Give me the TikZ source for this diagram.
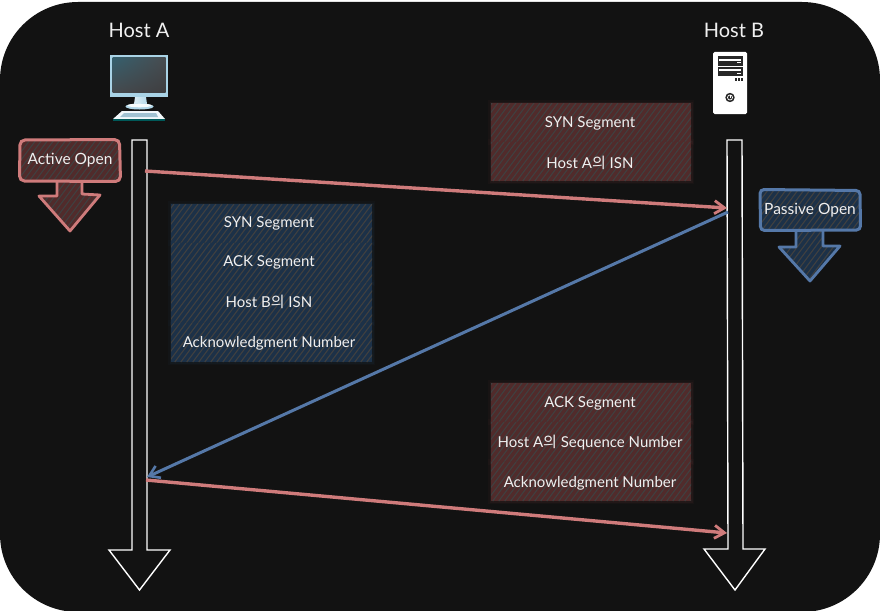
\documentclass[tikz,border=0pt]{standalone}
\usepackage{fontspec}
\setmainfont{Lato}
\newfontfamily\krfont{Noto Sans CJK KR}
\usetikzlibrary{arrows.meta,positioning,shadings}
\definecolor{bgc}{HTML}{121212}
\definecolor{redl}{HTML}{CF7B7B}
\definecolor{redf}{HTML}{512B2B}
\definecolor{bluel}{HTML}{5578A8}
\definecolor{bluef}{HTML}{1C3148}
\definecolor{hatch}{HTML}{404040}
\definecolor{txt}{HTML}{F0F0F0}
\definecolor{scr}{HTML}{A9D3E6}
\definecolor{scrul}{HTML}{35606E}
\definecolor{scrur}{HTML}{484C50}
\definecolor{scrll}{HTML}{464A4E}
\definecolor{scrlr}{HTML}{3E3E40}
\tikzset{
  x=1pt,y=-1pt,
  fieldtext/.style={text=txt,font=\fontsize{15}{18}\selectfont,anchor=center,inner sep=0pt,yshift=-1pt},
  hosttext/.style={text=txt,font=\fontsize{20}{24}\selectfont,anchor=center,inner sep=0pt},
  statetext/.style={text=txt,font=\fontsize{15.5}{18}\selectfont,anchor=center,inner sep=0pt,yshift=-.5pt},
  lifeline/.style={draw=white,line width=1.4pt,line join=miter,fill=bgc},
  redmsg/.style={draw=redl,line width=3.4pt,-{Straight Barb[length=10pt,width=13pt,line width=2.8pt]}},
  bluemsg/.style={draw=bluel,line width=3pt,-{Straight Barb[length=10pt,width=13pt,line width=2.6pt]}},
}
% hachured region: #1 fill colour, #2 path, #3 y-range start, #4 y-range end
\newcommand{\hachreg}[4]{%
  \fill[#1] #2;
  \begin{scope}
    \clip #2;
    \foreach \hh in {-300,-294,...,1300}{
      \draw[hatch,line width=1.1pt] (\hh,#3) -- ++(-0.75*#4+0.75*#3,#4-#3);
    }
  \end{scope}%
}
% field row with soft edge: #1 colour, x0, y0, x1, y1
\newcommand{\fieldrow}[5]{%
  \draw[#1,line width=6pt,opacity=.10] (#2,#3) rectangle (#4,#5);
  \draw[#1,line width=3pt,opacity=.18] (#2,#3) rectangle (#4,#5);
  \hachreg{#1}{(#2,#3) rectangle (#4,#5)}{#3}{#5}%
}
\begin{document}
\begin{tikzpicture}
\useasboundingbox (0,0) rectangle (880,610);
\fill[white] (0,0) rectangle (880,610);
\fill[bgc,rounded corners=78pt] (0,2) rectangle (880,612);

% field boxes
\fieldrow{redf}{491}{103}{691}{142}
\fieldrow{redf}{491}{142}{691}{181}
\fieldrow{bluef}{171}{204}{372}{243}
\fieldrow{bluef}{171}{243}{372}{283}
\fieldrow{bluef}{171}{283}{372}{323}
\fieldrow{bluef}{171}{323}{372}{362}
\fieldrow{redf}{491}{383}{691}{422}
\fieldrow{redf}{491}{422}{691}{462}
\fieldrow{redf}{491}{462}{691}{501}

\node[fieldtext] (f1) at (590,122) {SYN Segment};
\node[fieldtext] (f2) at (590,162) {Host A{\krfont 의} ISN};
\node[fieldtext] (f3) at (269,222) {SYN Segment};
\node[fieldtext] (f4) at (269,261) {ACK Segment};
\node[fieldtext] (f5) at (269,301) {Host B{\krfont 의} ISN};
\node[fieldtext] (f6) at (269,342) {Acknowledgment Number};
\node[fieldtext] (f7) at (590,402) {ACK Segment};
\node[fieldtext] (f8) at (590,442) {Host A{\krfont 의} Sequence Number};
\node[fieldtext] (f9) at (590,482) {Acknowledgment Number};

% host labels
\node[hosttext] (hosta) at (139,30) {Host A};
\node[hosttext] (hostb) at (734,30) {Host B};

% monitor icon
\shade[left color=white!75!scr,right color=scr] (135,97) -- (146,97) -- (147,104) -- (152,108) -- (129,108) -- (134,104) -- cycle;
\fill[scr!90!white] (139.5,106.5) ellipse (14 and 3);
\fill[white!90!scr] (139.5,105.5) ellipse (12 and 1.8);
\fill[scr] (110,55) rectangle (168,97);
\shade[upper left=scrul,upper right=scrur,lower left=scrll,lower right=scrlr] (112.5,57.5) rectangle (165.5,92);
\fill[white!85!scr] (122,111) -- (158,111) -- (165,119) -- (113,119) -- cycle;
\fill[teal!70!black] (113,119) rectangle (165,121);
\fill[scr!80!gray] (124,113) -- (156,113) -- (158,117) -- (120,117) -- cycle;

% server icon
\fill[white,rounded corners=1.5pt] (713,52) rectangle (747,114);
\fill[bgc!80!gray] (717.5,56) rectangle (743,65.5);
\fill[white] (719,59) rectangle (741,61);
\fill[bgc!80!gray] (717.5,66.5) rectangle (743,76);
\fill[white] (719,69) rectangle (741,71);
\fill[white] (737,62.5) rectangle (741,63.5);
\fill[white] (737,73) rectangle (741,74);
\foreach \vx in {735,738,741}{\fill[bgc!80!gray] (\vx,77.5) rectangle (\vx+2,80.5);}
\fill[bgc!80!gray] (730,97.5) circle (4.7);
\draw[white,line width=.7pt] (730,97.5) circle (2.5);
\draw[white,line width=.7pt] (730,94.8) -- (730,97.5);

% state: active open
\hachreg{redf}{(57,181) -- (82,181) -- (82,195) -- (100,195) -- (70,231) -- (39,196) -- (57,196) -- cycle}{181}{231}
\draw[redl,line width=2.8pt,line join=round] (57,181) -- (57,196) -- (39,196) -- (70,231) -- (100,195) -- (82,194) -- (82,181);
\hachreg{redf}{(20,140) rectangle (120,181)}{140}{181}
\draw[redl,line width=3pt,rounded corners=5pt] (20,140) -- (119.5,139.5) -- (120.5,181.5) -- (19.5,181) -- cycle;
\node[statetext] (active) at (70,160) {Active Open};

% state: passive open
\hachreg{bluef}{(796,230) -- (823,230) -- (823,246) -- (840,246) -- (810,281) -- (779,246) -- (796,246) -- cycle}{230}{281}
\draw[bluel,line width=2.8pt,line join=round] (796,230) -- (796,247) -- (779,247) -- (810,281) -- (840,246) -- (823,246) -- (823,230);
\hachreg{bluef}{(760,190) rectangle (860,230)}{190}{230}
\draw[bluel,line width=3pt,rounded corners=4pt] (760,189.5) -- (860,190.5) -- (860.5,230) -- (760.5,230.5) -- cycle;
\node[statetext] (passive) at (810,210) {Passive Open};

% life lines
\draw[lifeline] (132,140) -- (147,140) -- (147,550) -- (170,550) -- (139.5,590) -- (109,550) -- (132,550) -- cycle;
\draw[lifeline] (727,140) -- (742,140) -- (743,549) -- (765,549) -- (735,590) -- (704,549) -- (728,549) -- cycle;

% messages
\coordinate (a1) at (145,171);
\coordinate (b1) at (727,208);
\coordinate (b2) at (728,212);
\coordinate (a2) at (147,477);
\coordinate (a3) at (146,480);
\coordinate (b3) at (727,533);
\draw[redmsg] (a1) -- (b1);
\draw[bluemsg] (b2) -- (a2);
\draw[redmsg] (a3) -- (b3);
\end{tikzpicture}
\end{document}
